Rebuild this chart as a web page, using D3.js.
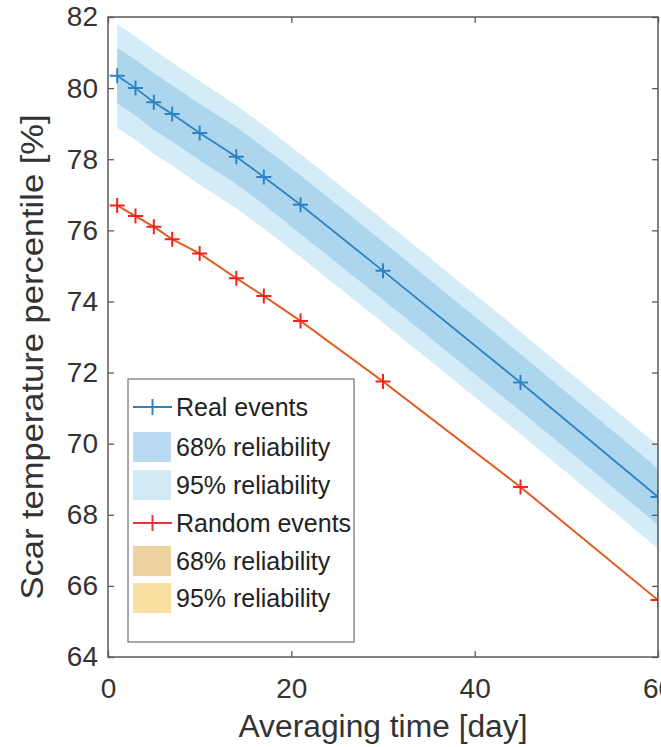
<!DOCTYPE html>
<html><head><meta charset="utf-8">
<script src="https://cdn.jsdelivr.net/npm/d3@7"></script>
<style>body{margin:0;background:#fff;} svg{display:block;font-family:Arial,"Liberation Sans",sans-serif;}</style>
</head><body><svg id="c" width="661" height="747"></svg>
<script>
// ---- data ----
const days = [1, 3, 5, 7, 10, 14, 17, 21, 30, 45, 60];
const realEvents = [80.35, 80.0, 79.6, 79.27, 78.74, 78.07, 77.5, 76.72, 74.86, 71.72, 68.5];
const real68Hi = [81.13, 80.8, 80.42, 80.08, 79.55, 78.9, 78.33, 77.55, 75.68, 72.52, 69.3];
const real68Lo = [79.58, 79.22, 78.83, 78.5, 77.97, 77.3, 76.73, 75.9, 74.05, 70.92, 67.72];
const real95Hi = [81.8, 81.45, 81.07, 80.72, 80.2, 79.52, 78.95, 78.15, 76.3, 73.15, 69.95];
const real95Lo = [78.88, 78.55, 78.15, 77.82, 77.28, 76.62, 76.05, 75.25, 73.4, 70.27, 67.05];
const randomEvents = [76.7, 76.4, 76.1, 75.75, 75.35, 74.65, 74.15, 73.45, 71.75, 68.78, 65.6];
const random68Hi = [76.72, 76.42, 76.12, 75.77, 75.37, 74.67, 74.17, 73.47, 71.77, 68.8, 65.62];
const random68Lo = [76.68, 76.38, 76.08, 75.73, 75.33, 74.63, 74.13, 73.43, 71.73, 68.76, 65.58];
const random95Hi = [76.74, 76.44, 76.14, 75.79, 75.39, 74.69, 74.19, 73.49, 71.79, 68.82, 65.64];
const random95Lo = [76.66, 76.36, 76.06, 75.71, 75.31, 74.61, 74.11, 73.41, 71.71, 68.74, 65.56];
const xTicks = [0, 20, 40, 60];
const yTicks = [64, 66, 68, 70, 72, 74, 76, 78, 80, 82];
const legendLabels = ["Real events", "68% reliability", "95% reliability", "Random events", "68% reliability", "95% reliability"];

// ---- layout ----
const L = 108, R = 658, T = 17, B = 657;
const svg = d3.select("#c");
const x = d3.scaleLinear().domain([0, 60]).range([L, R]);
const y = d3.scaleLinear().domain([64, 82]).range([B, T]);

const axisColor = "#5a5a5a";
const blue = "#2f83c2";
const blueDark = "#acd6ee";
const blueLight = "#d3ecf7";
const redLine = "#e5542c";
const redMark = "#f2221c";
const org68 = "#ecd3a0";
const org95 = "#f9e0a0";

svg.append("defs").append("clipPath").attr("id", "clip")
  .append("rect").attr("x", L).attr("y", T).attr("width", R - L).attr("height", B - T);

const plot = svg.append("g").attr("clip-path", "url(#clip)");

function band(hi, lo, fill) {
  const area = d3.area()
    .x((d, i) => x(days[i]))
    .y0((d, i) => y(lo[i]))
    .y1((d, i) => y(hi[i]));
  plot.append("path").datum(days).attr("d", area).attr("fill", fill).attr("stroke", "none");
}
band(real95Hi, real95Lo, blueLight);
band(real68Hi, real68Lo, blueDark);
band(random95Hi, random95Lo, org95);
band(random68Hi, random68Lo, org68);

function series(vals, lineColor, markColor) {
  const line = d3.line().x((d, i) => x(days[i])).y((d, i) => y(vals[i]));
  plot.append("path").datum(days).attr("d", line).attr("fill", "none")
    .attr("stroke", lineColor).attr("stroke-width", 1.8);
  const s = 7.5;
  const g = plot.append("g");
  days.forEach((d, i) => {
    const px = x(d), py = y(vals[i]);
    g.append("path").attr("d", `M${px - s},${py}H${px + s}M${px},${py - s}V${py + s}`)
      .attr("stroke", markColor).attr("stroke-width", 2).attr("fill", "none");
  });
}
series(realEvents, blue, blue);
series(randomEvents, redLine, redMark);

// ---- axes ----
function styleAxis(g) {
  g.select(".domain").remove();
  g.selectAll(".tick line").attr("stroke", axisColor).attr("stroke-width", 1.3);
  g.selectAll(".tick text").attr("fill", "#333").attr("font-size", 28)
    .attr("font-family", "Arial, 'Liberation Sans', sans-serif");
}
svg.append("g").attr("transform", `translate(0,${B})`)
  .call(d3.axisBottom(x).tickValues(xTicks).tickSize(-6).tickPadding(21).tickFormat(d3.format("d")))
  .call(styleAxis);
svg.append("g").attr("transform", `translate(0,${T})`)
  .call(d3.axisTop(x).tickValues(xTicks).tickSize(-6).tickFormat(""))
  .call(styleAxis);
svg.append("g").attr("transform", `translate(${L},0)`)
  .call(d3.axisLeft(y).tickValues(yTicks).tickSize(-6).tickPadding(10).tickFormat(d3.format("d")))
  .call(styleAxis);
svg.append("g").attr("transform", `translate(${R},0)`)
  .call(d3.axisRight(y).tickValues(yTicks).tickSize(-6).tickFormat(""))
  .call(styleAxis);

svg.append("rect").attr("x", L).attr("y", T).attr("width", R - L).attr("height", B - T)
  .attr("fill", "none").attr("stroke", axisColor).attr("stroke-width", 1.5);

// axis titles
svg.append("text").attr("x", (L + R) / 2).attr("y", 737).attr("text-anchor", "middle")
  .attr("font-size", 31).attr("fill", "#333")
  .attr("textLength", 289).attr("lengthAdjust", "spacingAndGlyphs")
  .text("Averaging time [day]");
svg.append("text").attr("transform", "translate(43,357) rotate(-90)").attr("text-anchor", "middle")
  .attr("font-size", 32).attr("fill", "#333")
  .attr("textLength", 485).attr("lengthAdjust", "spacingAndGlyphs")
  .text("Scar temperature percentile [%]");

// ---- legend ----
const lg = svg.append("g");
lg.append("rect").attr("x", 128).attr("y", 379).attr("width", 226).attr("height", 263)
  .attr("fill", "#fff").attr("stroke", "#7a7a7a").attr("stroke-width", 1.3);
const rowY = [407, 447, 485, 523, 561, 598];
const kinds = [
  {type: "line", color: blue},
  {type: "patch", color: "#b8dbf1"},
  {type: "patch", color: "#d2eaf6"},
  {type: "line", color: "#e8323a"},
  {type: "patch", color: org68},
  {type: "patch", color: org95}
];
legendLabels.forEach((lab, i) => {
  const cy = rowY[i], k = kinds[i];
  if (k.type === "line") {
    lg.append("line").attr("x1", 133).attr("x2", 172).attr("y1", cy).attr("y2", cy)
      .attr("stroke", k.color).attr("stroke-width", 2);
    lg.append("line").attr("x1", 152.5).attr("x2", 152.5).attr("y1", cy - 8).attr("y2", cy + 8)
      .attr("stroke", k.color).attr("stroke-width", 2);
  } else {
    lg.append("rect").attr("x", 133).attr("y", cy - 15).attr("width", 38).attr("height", 30)
      .attr("fill", k.color);
  }
  lg.append("text").attr("x", 176).attr("y", cy + 9).attr("font-size", 25).attr("fill", "#222")
    .text(lab);
});
</script></body></html>
